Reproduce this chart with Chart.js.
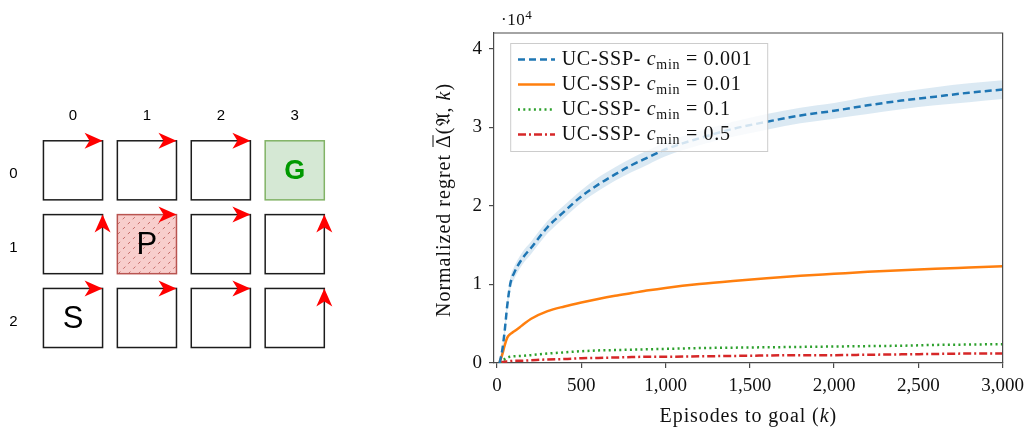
<!DOCTYPE html>
<html>
<head>
<meta charset="utf-8">
<script src="https://cdn.jsdelivr.net/npm/chart.js@4.4.1/dist/chart.umd.min.js"></script>
<style>
  html, body { margin: 0; padding: 0; background: #fff; }
  #wrap { position: relative; width: 1031px; height: 432px; }
  #grid-box { position: absolute; left: 0; top: 0; width: 400px; height: 432px; }
  #regret-box { position: absolute; left: 400px; top: 0; width: 631px; height: 432px; }
</style>
</head>
<body>
<div id="wrap">
  <div id="grid-box"><canvas id="chart-grid"></canvas></div>
  <div id="regret-box"><canvas id="chart-regret"></canvas></div>
</div>
<script>
// ---- grid world (left panel) ----
const gridCols = [0, 1, 2, 3];
const gridRows = [0, 1, 2];
const cellMarks = [
  ['', '', '', 'G'],
  ['', 'P', '', ''],
  ['S', '', '', '']
];
const cellArrows = [
  ['right', 'right', 'right', ''],
  ['up', 'right', 'right', 'up'],
  ['right', 'right', 'right', 'up']
];

// ---- regret curves (right panel), values in units of 10^4 ----
const episodes = [15, 30, 45, 60, 80, 100, 150, 200, 300, 400, 500, 600, 700, 800, 900, 1000, 1200, 1400, 1600, 1800, 2000, 2200, 2400, 2600, 2800, 3000];
const regret0001 = [0, 0.15, 0.40, 0.72, 1.02, 1.14, 1.33, 1.46, 1.73, 1.93, 2.12, 2.27, 2.40, 2.52, 2.62, 2.72, 2.86, 2.98, 3.07, 3.15, 3.21, 3.28, 3.34, 3.39, 3.44, 3.48];
const regret0001Low = [0, 0.10, 0.33, 0.64, 0.94, 1.06, 1.25, 1.38, 1.65, 1.85, 2.04, 2.19, 2.32, 2.43, 2.53, 2.63, 2.77, 2.88, 2.97, 3.05, 3.11, 3.17, 3.23, 3.28, 3.32, 3.36];
const regret0001High = [0.02, 0.20, 0.47, 0.80, 1.10, 1.22, 1.41, 1.54, 1.81, 2.01, 2.20, 2.36, 2.49, 2.61, 2.71, 2.81, 2.95, 3.07, 3.17, 3.25, 3.31, 3.39, 3.45, 3.51, 3.56, 3.60];
const regret001 = [0.01, 0.10, 0.22, 0.32, 0.37, 0.40, 0.48, 0.56, 0.66, 0.72, 0.77, 0.815, 0.855, 0.89, 0.925, 0.955, 1.005, 1.045, 1.08, 1.11, 1.135, 1.16, 1.18, 1.20, 1.215, 1.23];
const regret01 = [0, 0.03, 0.05, 0.07, 0.08, 0.085, 0.09, 0.10, 0.12, 0.135, 0.15, 0.16, 0.165, 0.17, 0.175, 0.18, 0.19, 0.195, 0.20, 0.205, 0.21, 0.215, 0.22, 0.23, 0.235, 0.24];
const regret05 = [0, 0.01, 0.02, 0.02, 0.025, 0.03, 0.03, 0.035, 0.045, 0.05, 0.06, 0.065, 0.07, 0.075, 0.08, 0.08, 0.085, 0.09, 0.095, 0.10, 0.10, 0.105, 0.11, 0.115, 0.12, 0.12];
const cminValues = ['0.001', '0.01', '0.1', '0.5'];
const xTicks = [0, 500, 1000, 1500, 2000, 2500, 3000];
const yTicks = [0, 1, 2, 3, 4];

const SERIF = '"Liberation Serif", "Times New Roman", serif';
const SANS = '"Liberation Sans", Arial, sans-serif';
const colors = { blue: '#1f77b4', orange: '#ff7f0e', green: '#2ca02c', red: '#d62728' };

function toPoints(xs, ys) { return xs.map((x, i) => ({ x: x, y: ys[i] })); }

// draws a row of text runs (mixed fonts, sub/superscripts, overline)
function drawParts(ctx, parts, x, y, align, spacing) {
  ctx.letterSpacing = spacing || '0px';
  let total = 0;
  parts.forEach(p => { ctx.font = p.font; p.w = ctx.measureText(p.text).width; total += p.w; });
  let cx = align === 'center' ? x - total / 2 : x;
  ctx.textAlign = 'left';
  ctx.textBaseline = 'alphabetic';
  parts.forEach(p => {
    ctx.font = p.font;
    ctx.fillText(p.text, cx, y + (p.dy || 0));
    if (p.over) {
      ctx.beginPath();
      ctx.lineWidth = 1;
      ctx.moveTo(cx + 1, y - p.over);
      ctx.lineTo(cx + p.w - 1, y - p.over);
      ctx.stroke();
    }
    cx += p.w;
  });
  ctx.letterSpacing = '0px';
}

// arrow head like draw.io "classic": tip, two back corners, notch
function arrowHead(ctx, tx, ty, dir) {
  const len = 18, half = 8, notch = 13;
  ctx.beginPath();
  if (dir === 'right') {
    ctx.moveTo(tx, ty);
    ctx.lineTo(tx - len, ty - half);
    ctx.lineTo(tx - notch, ty);
    ctx.lineTo(tx - len, ty + half);
  } else {
    ctx.moveTo(tx, ty);
    ctx.lineTo(tx - half, ty + len);
    ctx.lineTo(tx, ty + notch);
    ctx.lineTo(tx + half, ty + len);
  }
  ctx.closePath();
  ctx.fill();
}

const gridCellsPlugin = {
  id: 'gridCells',
  afterDatasetsDraw(chart) {
    const { ctx } = chart;
    const xs = chart.scales.x, ys = chart.scales.y;
    const half = 0.4;
    ctx.save();
    gridRows.forEach((r, ri) => {
      gridCols.forEach((c, ci) => {
        const x0 = xs.getPixelForValue(c - half), x1 = xs.getPixelForValue(c + half);
        const y0 = ys.getPixelForValue(r - half), y1 = ys.getPixelForValue(r + half);
        const w = x1 - x0, h = y1 - y0;
        const mark = cellMarks[ri][ci];
        let fill = '#ffffff', stroke = '#1c1c1c';
        if (mark === 'G') { fill = '#d5e8d4'; stroke = '#82b366'; }
        if (mark === 'P') { fill = '#f8cecc'; stroke = '#b85450'; }
        ctx.fillStyle = fill;
        ctx.fillRect(x0, y0, w, h);
        if (mark === 'P') {
          ctx.save();
          ctx.beginPath();
          ctx.rect(x0, y0, w, h);
          ctx.clip();
          ctx.strokeStyle = 'rgba(184,84,80,0.8)';
          ctx.lineWidth = 1;
          ctx.setLineDash([3, 4]);
          for (let d = -h; d < w + h; d += 10) {
            ctx.beginPath();
            ctx.moveTo(x0 + d, y1);
            ctx.lineTo(x0 + d + h, y0);
            ctx.stroke();
          }
          ctx.restore();
        }
        ctx.strokeStyle = stroke;
        ctx.lineWidth = 1.5;
        ctx.strokeRect(x0, y0, w, h);
        if (mark) {
          const cx = (x0 + x1) / 2, cy = (y0 + y1) / 2;
          ctx.textAlign = 'center';
          ctx.textBaseline = 'middle';
          if (mark === 'G') {
            ctx.fillStyle = '#009900';
            ctx.font = 'bold 27px ' + SANS;
            ctx.fillText(mark, cx, cy + 1);
          } else {
            ctx.fillStyle = '#000';
            ctx.font = '31px ' + SANS;
            ctx.fillText(mark, cx, cy + 1);
          }
        }
      });
    });
    ctx.fillStyle = '#ff0000';
    gridRows.forEach((r, ri) => {
      gridCols.forEach((c, ci) => {
        const dir = cellArrows[ri][ci];
        if (!dir) return;
        const tx = xs.getPixelForValue(c + half);
        const ty = ys.getPixelForValue(r - half);
        arrowHead(ctx, tx, ty, dir);
      });
    });
    ctx.restore();
  }
};

new Chart(document.getElementById('chart-grid').getContext('2d'), {
  type: 'scatter',
  data: { datasets: [{ data: gridRows.flatMap(r => gridCols.map(c => ({ x: c, y: r }))), pointRadius: 0 }] },
  options: {
    responsive: true, maintainAspectRatio: false, animation: false, events: [],
    layout: { padding: { top: 0, left: 0, right: 68.3, bottom: 77.1 } },
    plugins: { legend: { display: false }, tooltip: { enabled: false } },
    scales: {
      x: {
        type: 'linear', position: 'top', min: -0.5, max: 3.5,
        afterBuildTicks: s => { s.ticks = gridCols.map(v => ({ value: v })); },
        afterFit: s => { s.height = 133.4; },
        grid: { display: false, drawTicks: false }, border: { display: false },
        ticks: { color: '#000', font: { family: SANS, size: 15 }, padding: 9, callback: v => String(v) }
      },
      y: {
        type: 'linear', reverse: true, min: -0.5, max: 2.5,
        afterBuildTicks: s => { s.ticks = gridRows.map(v => ({ value: v })); },
        afterFit: s => { s.width = 36.05; },
        grid: { display: false, drawTicks: false }, border: { display: false },
        ticks: { color: '#000', font: { family: SANS, size: 15 }, padding: 18.5, labelOffset: 4, callback: v => String(v) }
      }
    }
  },
  plugins: [gridCellsPlugin]
});

// ---- regret chart decorations ----
const frameColor = '#4a4a4a';
const lineStyles = [
  { color: colors.blue, dash: [7, 4], width: 2.5 },
  { color: colors.orange, dash: [], width: 2.5 },
  { color: colors.green, dash: [2, 3.3], width: 2.5 },
  { color: colors.red, dash: [8, 3, 2, 3], width: 2.5 }
];

const regretDecor = {
  id: 'regretDecor',
  afterDraw(chart) {
    const { ctx, chartArea: a } = chart;
    ctx.save();
    // top and right edges of the box
    ctx.strokeStyle = frameColor;
    ctx.lineWidth = 1.2;
    ctx.beginPath();
    ctx.moveTo(a.left, a.top);
    ctx.lineTo(a.right, a.top);
    ctx.lineTo(a.right, a.bottom);
    ctx.stroke();

    // legend
    const bx = a.left + 16.7, by = a.top + 10.5, bw = 257, bh = 108;
    ctx.fillStyle = 'rgba(255,255,255,0.8)';
    ctx.fillRect(bx, by, bw, bh);
    ctx.strokeStyle = '#cccccc';
    ctx.lineWidth = 1;
    ctx.strokeRect(bx, by, bw, bh);
    const norm = '20px ' + SERIF, ital = 'italic 20px ' + SERIF, sub = '14px ' + SERIF;
    cminValues.forEach((v, i) => {
      const base = by + 21.7 + i * 25;
      const st = lineStyles[i];
      ctx.strokeStyle = st.color;
      ctx.lineWidth = st.width;
      ctx.setLineDash(st.dash);
      ctx.beginPath();
      ctx.moveTo(bx + 7.3, base - 5.7);
      ctx.lineTo(bx + 44.3, base - 5.7);
      ctx.stroke();
      ctx.setLineDash([]);
      ctx.fillStyle = '#111';
      drawParts(ctx, [
        { text: 'UC-SSP- ', font: norm },
        { text: 'c', font: ital },
        { text: 'min', font: sub, dy: 4 },
        { text: ' = ' + v, font: norm }
      ], bx + 51, base, 'left', '0.7px');
    });

    // exponent label
    ctx.fillStyle = '#111';
    drawParts(ctx, [
      { text: '\u00b710', font: '17px ' + SERIF },
      { text: '4', font: '13px ' + SERIF, dy: -6 }
    ], a.left + 7, 25, 'left', '0.5px');

    // x title
    drawParts(ctx, [
      { text: 'Episodes to goal (', font: norm },
      { text: 'k', font: ital },
      { text: ')', font: norm }
    ], (a.left + a.right) / 2, 422, 'center', '0.9px');

    // y title (rotated)
    ctx.translate(50, (a.top + a.bottom) / 2 + 2);
    ctx.rotate(-Math.PI / 2);
    ctx.strokeStyle = '#111';
    drawParts(ctx, [
      { text: 'Normalized regret ', font: norm },
      { text: '\u0394', font: norm, over: 17 },
      { text: '(', font: norm },
      { text: '\ud835\udd04', font: norm },
      { text: ', ', font: norm },
      { text: 'k', font: ital },
      { text: ')', font: norm }
    ], 0, 0, 'center', '1px');
    ctx.restore();
  }
};

const lineBase = { pointRadius: 0, fill: false, cubicInterpolationMode: 'monotone' };
const seriesValues = [regret0001, regret001, regret01, regret05];

new Chart(document.getElementById('chart-regret').getContext('2d'), {
  type: 'line',
  data: {
    datasets: [
      { label: 'band high', data: toPoints(episodes, regret0001High), borderWidth: 0, pointRadius: 0, fill: '+1', backgroundColor: 'rgba(31,119,180,0.16)', cubicInterpolationMode: 'monotone' },
      { label: 'band low', data: toPoints(episodes, regret0001Low), borderWidth: 0, pointRadius: 0, fill: false, cubicInterpolationMode: 'monotone' }
    ].concat(seriesValues.map((vals, i) => Object.assign({}, lineBase, {
      label: 'UC-SSP- c_min = ' + cminValues[i],
      data: toPoints(episodes, vals),
      borderColor: lineStyles[i].color,
      borderDash: lineStyles[i].dash,
      borderWidth: lineStyles[i].width
    })))
  },
  options: {
    responsive: true, maintainAspectRatio: false, animation: false, events: [],
    layout: { padding: { top: 33, right: 24, left: 0, bottom: 0 } },
    plugins: { legend: { display: false }, tooltip: { enabled: false } },
    scales: {
      x: {
        type: 'linear', min: -18, max: 3000,
        afterBuildTicks: s => { s.ticks = xTicks.map(v => ({ value: v })); },
        afterFit: s => { s.height = 69; },
        grid: { drawOnChartArea: false, tickLength: 5, color: frameColor, lineWidth: 1.2 },
        border: { color: frameColor, width: 1.2 },
        ticks: { color: '#111', font: { family: SERIF, size: 19 }, padding: 7, maxRotation: 0, callback: v => Number(v).toLocaleString('en-US') }
      },
      y: {
        type: 'linear', min: 0, max: 4.2,
        afterBuildTicks: s => { s.ticks = yTicks.map(v => ({ value: v })); },
        afterFit: s => { s.width = 94; },
        grid: { drawOnChartArea: false, tickLength: 5, color: frameColor, lineWidth: 1.2 },
        border: { color: frameColor, width: 1.2 },
        ticks: { color: '#111', font: { family: SERIF, size: 19 }, padding: 7, callback: v => String(v) }
      }
    }
  },
  plugins: [regretDecor]
});
</script>
</body>
</html>
